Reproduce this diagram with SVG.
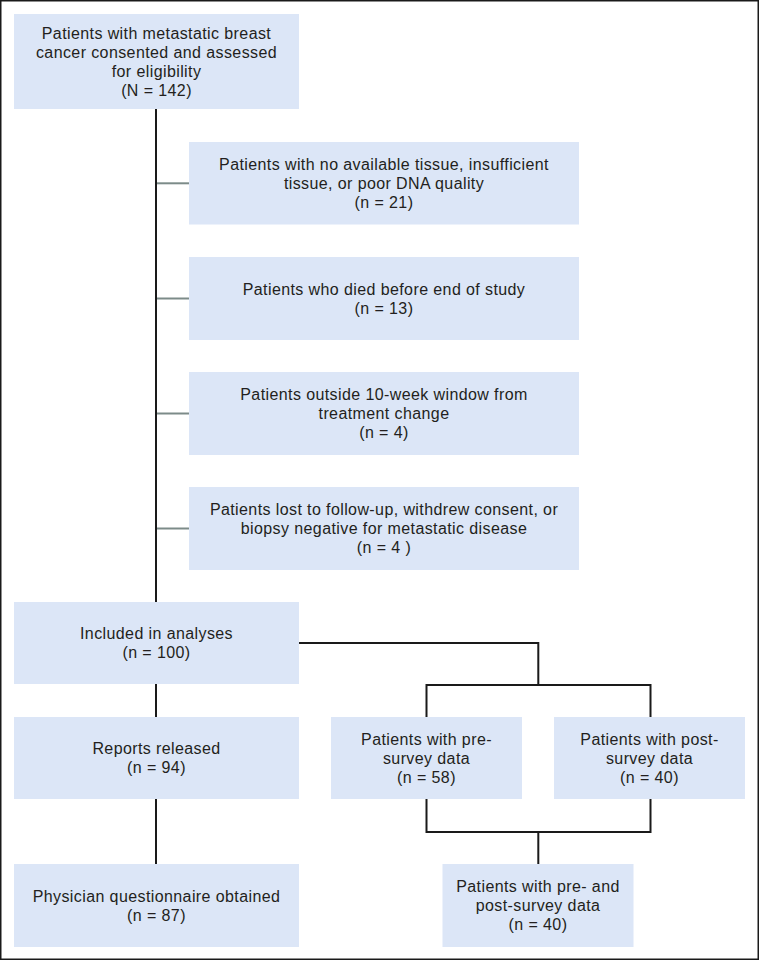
<svg xmlns="http://www.w3.org/2000/svg" width="760" height="961" viewBox="0 0 760 961">
<style>
.box{fill:#dce6f7;}
.t{font-family:"Liberation Sans",Arial,sans-serif;font-size:16px;letter-spacing:0.4px;fill:#231f20;text-anchor:middle;}
.ln{fill:none;stroke:#1a1a1a;stroke-width:2;stroke-linecap:butt;stroke-linejoin:miter;}
.gl{fill:none;stroke:#7c8b89;stroke-width:2;}
</style>
<rect x="0.75" y="0.75" width="757.5" height="958.5" fill="#ffffff" stroke="#1a1a1a" stroke-width="1.5"/>
<g id="connectors">
<line class="ln" x1="156" y1="109" x2="156" y2="602"/>
<line class="gl" x1="157" y1="183.3" x2="189" y2="183.3"/>
<line class="gl" x1="157" y1="298.5" x2="189" y2="298.5"/>
<line class="gl" x1="157" y1="413.5" x2="189" y2="413.5"/>
<line class="gl" x1="157" y1="528.5" x2="189" y2="528.5"/>
<polyline class="ln" points="299,643 538.3,643 538.3,685"/>
<polyline class="ln" points="426.5,717 426.5,685 650.5,685 650.5,717"/>
<line class="ln" x1="156" y1="684" x2="156" y2="717"/>
<line class="ln" x1="156" y1="799" x2="156" y2="864"/>
<polyline class="ln" points="426.5,799 426.5,832 650.5,832 650.5,799"/>
<line class="ln" x1="538.3" y1="832" x2="538.3" y2="864"/>
</g>
<g id="n-assessed">
<rect class="box" x="14" y="14" width="285" height="95"/>
<text class="t" x="156.5" y="38.5">Patients with metastatic breast</text>
<text class="t" x="156.5" y="57.5">cancer consented and assessed</text>
<text class="t" x="156.5" y="76.5">for eligibility</text>
<text class="t" x="156.5" y="95.5">(N = 142)</text>
</g>
<g id="n-tissue">
<rect class="box" x="189" y="142" width="390" height="82.5"/>
<text class="t" x="384" y="169.8">Patients with no available tissue, insufficient</text>
<text class="t" x="384" y="188.8">tissue, or poor DNA quality</text>
<text class="t" x="384" y="207.8">(n = 21)</text>
</g>
<g id="n-died">
<rect class="box" x="189" y="257" width="390" height="83"/>
<text class="t" x="384" y="294.5">Patients who died before end of study</text>
<text class="t" x="384" y="313.5">(n = 13)</text>
</g>
<g id="n-window">
<rect class="box" x="189" y="372" width="390" height="83"/>
<text class="t" x="384" y="400">Patients outside 10-week window from</text>
<text class="t" x="384" y="419">treatment change</text>
<text class="t" x="384" y="438">(n = 4)</text>
</g>
<g id="n-lost">
<rect class="box" x="189" y="487" width="390" height="83"/>
<text class="t" x="384" y="515">Patients lost to follow-up, withdrew consent, or</text>
<text class="t" x="384" y="534">biopsy negative for metastatic disease</text>
<text class="t" x="384" y="553">(n = 4 )</text>
</g>
<g id="n-included">
<rect class="box" x="14" y="602" width="285" height="82"/>
<text class="t" x="156.5" y="639">Included in analyses</text>
<text class="t" x="156.5" y="658">(n = 100)</text>
</g>
<g id="n-reports">
<rect class="box" x="14" y="717" width="285" height="82"/>
<text class="t" x="156.5" y="754">Reports released</text>
<text class="t" x="156.5" y="773">(n = 94)</text>
</g>
<g id="n-pre">
<rect class="box" x="331" y="717" width="191" height="82"/>
<text class="t" x="426.5" y="744.5">Patients with pre-</text>
<text class="t" x="426.5" y="763.5">survey data</text>
<text class="t" x="426.5" y="782.5">(n = 58)</text>
</g>
<g id="n-post">
<rect class="box" x="554" y="717" width="191" height="82"/>
<text class="t" x="649.5" y="744.5">Patients with post-</text>
<text class="t" x="649.5" y="763.5">survey data</text>
<text class="t" x="649.5" y="782.5">(n = 40)</text>
</g>
<g id="n-physician">
<rect class="box" x="14" y="864" width="285" height="83"/>
<text class="t" x="156.5" y="901.5">Physician questionnaire obtained</text>
<text class="t" x="156.5" y="920.5">(n = 87)</text>
</g>
<g id="n-both">
<rect class="box" x="442.5" y="864" width="191" height="83"/>
<text class="t" x="538" y="892">Patients with pre- and</text>
<text class="t" x="538" y="911">post-survey data</text>
<text class="t" x="538" y="930">(n = 40)</text>
</g>
</svg>
